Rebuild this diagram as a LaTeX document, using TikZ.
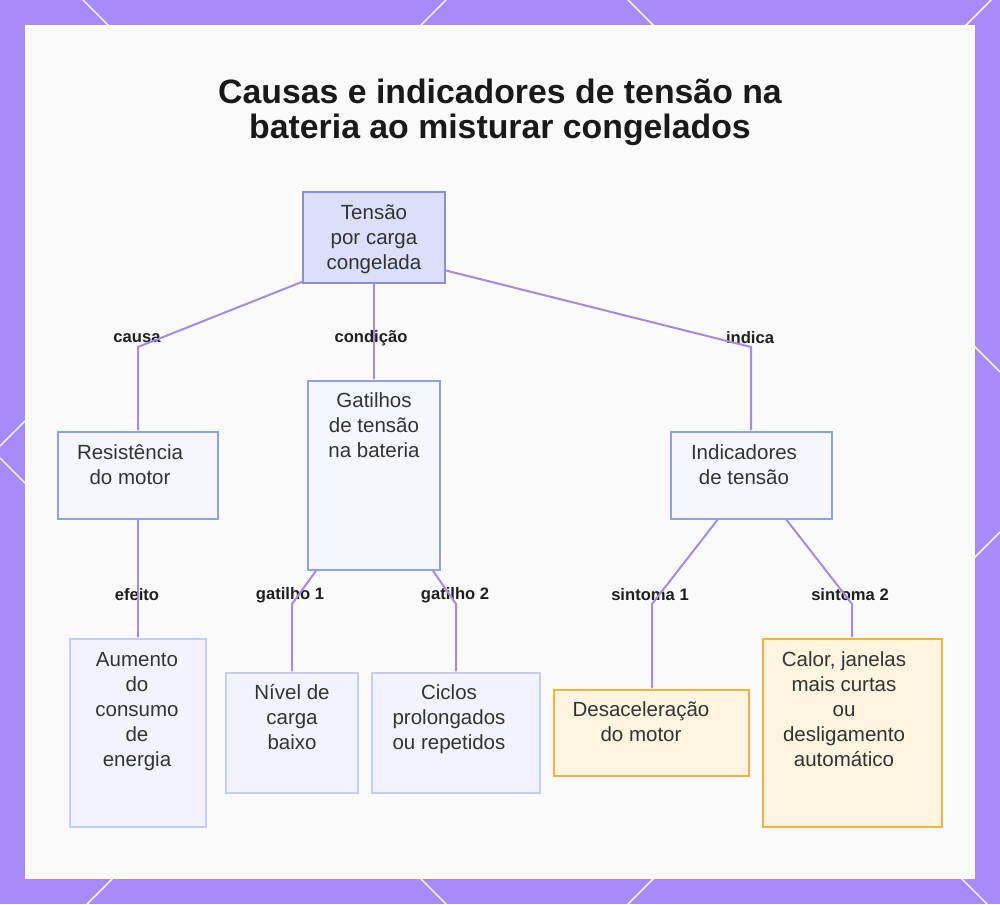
\documentclass[tikz,border=0pt]{standalone}
\usepackage{fontspec}
\setmainfont{Liberation Sans}
\usetikzlibrary{arrows.meta}
\definecolor{bgpurple}{HTML}{A78BFA}
\definecolor{edgec}{HTML}{A58AE6}
\definecolor{topfill}{HTML}{DCDEFA}
\definecolor{topdraw}{HTML}{8A8EDC}
\definecolor{midfill}{HTML}{F6F7FE}
\definecolor{middraw}{HTML}{8EA0E6}
\definecolor{lowfill}{HTML}{F2F4FD}
\definecolor{lowdraw}{HTML}{C6CDF5}
\definecolor{orfill}{HTML}{FEF4DF}
\definecolor{ordraw}{HTML}{F2B33D}
\definecolor{txt}{HTML}{333333}
\tikzset{
  boxA/.style={draw=topdraw, fill=topfill, line width=1.6pt, inner sep=0pt},
  boxB/.style={draw=middraw, fill=midfill, line width=1.6pt, inner sep=0pt},
  boxC/.style={draw=lowdraw, fill=lowfill, line width=1.6pt, inner sep=0pt},
  boxO/.style={draw=ordraw, fill=orfill, line width=1.6pt, inner sep=0pt},
  btext/.style={anchor=base, align=center, inner sep=0pt, text=txt,
    font=\fontsize{20.5}{25}\selectfont},
  elabel/.style={inner sep=0pt, text=black!88, font=\bfseries\fontsize{16.6}{19}\selectfont},
  conn/.style={draw=edgec, line width=2pt, -{Latex[length=3pt,width=3pt]}},
  lattice/.style={draw=white, line width=1.4pt}
}
\begin{document}
\begin{tikzpicture}[x=1pt,y=-1pt]
\useasboundingbox (0,0) rectangle (1000,904);
\fill[bgpurple] (0,0) rectangle (1000,904);
% border lattice
\draw[lattice] (83,0) -- (987,904);
\draw[lattice] (991,0) -- (87,904);
\draw[lattice] (446,0) -- (0,446);
\draw[lattice] (0,458) -- (446,904);
\draw[lattice] (628,0) -- (1000,372);
\draw[lattice] (1000,532) -- (628,904);
% panel
\fill[white] (25,25) rectangle (975,879);
\fill[black!2] (28,28) rectangle (972,876);
% title
\node[anchor=base, inner sep=0pt, font=\bfseries\fontsize{33.8}{35}\selectfont, text=black!90] (title1) at (500,104) {Causas e indicadores de tensão na};
\node[anchor=base, inner sep=0pt, font=\bfseries\fontsize{33.8}{35}\selectfont, text=black!90] (title2) at (500,139) {bateria ao misturar congelados};
% boxes
\node[boxA, minimum width=142pt, minimum height=91pt] (A) at (374,237.5) {};
\node[boxB, minimum width=160pt, minimum height=87pt] (B) at (138,475.5) {};
\node[boxB, minimum width=132pt, minimum height=189pt] (C) at (374,475.5) {};
\node[boxB, minimum width=161pt, minimum height=87pt] (D) at (751.5,475.5) {};
\node[boxC, minimum width=136pt, minimum height=188pt] (E) at (138,733) {};
\node[boxC, minimum width=132pt, minimum height=120pt] (F) at (292,733) {};
\node[boxC, minimum width=168pt, minimum height=120pt] (G) at (456,733) {};
\node[boxO, minimum width=195pt, minimum height=86pt] (H) at (651.5,733) {};
\node[boxO, minimum width=179pt, minimum height=188pt] (I) at (852.5,733) {};
% box texts (anchor = baseline of last line)
\node[btext] (At) at (374,269) {Tensão\\por carga\\congelada};
\node[btext] (Bt) at (130,484) {Resistência\\do motor};
\node[btext] (Ct) at (374,457) {Gatilhos\\de tensão\\na bateria};
\node[btext] (Dt) at (744,484) {Indicadores\\de tensão};
\node[btext] (Et) at (137,766) {Aumento\\do\\consumo\\de\\energia};
\node[btext] (Ft) at (292,749) {Nível de\\carga\\baixo};
\node[btext] (Gt) at (449,749) {Ciclos\\prolongados\\ou repetidos};
\node[btext] (Ht) at (641,741) {Desaceleração\\do motor};
\node[btext] (It) at (844,766) {Calor, janelas\\mais curtas\\ou\\desligamento\\automático};
% edge labels
\node[elabel] (l1) at (137,338) {causa};
\node[elabel] (l2) at (371,338) {condição};
\node[elabel] (l3) at (750,338) {indica};
\node[elabel] (l4) at (137,595) {efeito};
\node[elabel] (l5) at (290,595) {gatilho 1};
\node[elabel] (l6) at (455,595) {gatilho 2};
\node[elabel] (l7) at (650,595) {sintoma 1};
\node[elabel] (l8) at (850,595) {sintoma 2};
% connectors
\coordinate (c1) at (138,347);
\coordinate (c3) at (751,347);
\coordinate (c5) at (292,604);
\coordinate (c6) at (456,604);
\coordinate (c7) at (652,604);
\coordinate (c8) at (852,604);
\draw[conn] ([yshift=2pt]A.south west) -- (c1) -- (B.north -| c1);
\draw[conn] (A.south) -- (C.north);
\draw[conn] ([yshift=-33pt]A.east) -- (c3) -- (D.north -| c3);
\draw[conn] (B.south) -- (E.north);
\draw[conn] ([xshift=-58pt]C.south) -- (c5) -- (F.north);
\draw[conn] ([xshift=59pt]C.south) -- (c6) -- (G.north -| c6);
\draw[conn] ([xshift=-34pt]D.south) -- (c7) -- (H.north -| c7);
\draw[conn] ([xshift=35pt]D.south) -- (c8) -- (I.north -| c8);
\end{tikzpicture}
\end{document}
